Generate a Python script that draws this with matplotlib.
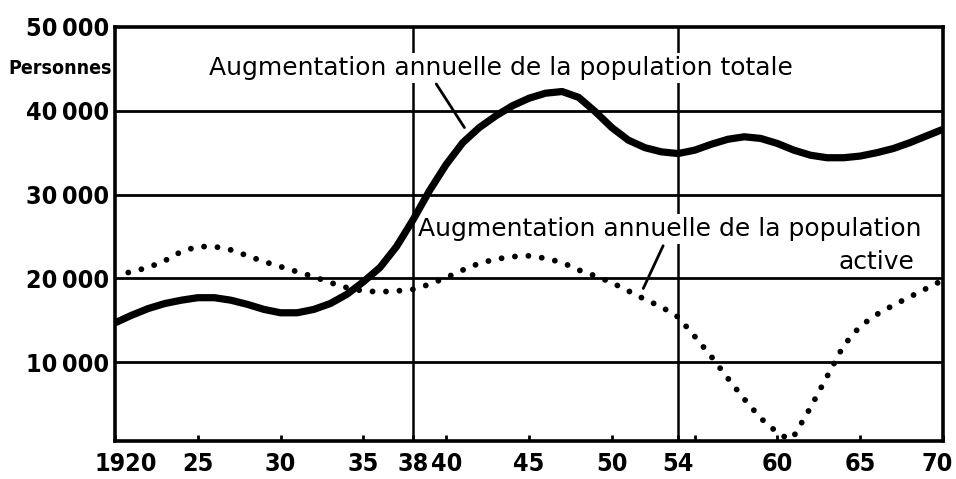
import matplotlib
matplotlib.use("Agg")
import matplotlib.pyplot as plt
from matplotlib.font_manager import FontProperties
from matplotlib.transforms import ScaledTranslation

# ---- data ----
years_total = list(range(1920, 1971))
total = [14700, 15600, 16400, 17000, 17400, 17700, 17700, 17400, 16900, 16300,
         15900, 15900, 16300, 17000, 18100, 19600, 21300, 23800, 27000, 30500,
         33600, 36200, 38000, 39400, 40600, 41500, 42100, 42300, 41600, 39900,
         38000, 36500, 35600, 35100, 34900, 35300, 36000, 36600, 36900, 36700,
         36100, 35300, 34700, 34400, 34400, 34600, 35000, 35500, 36200, 37000,
         37800]

years_active = [1920.8, 1922, 1923, 1924, 1925, 1926, 1927, 1928, 1929, 1930,
                1931, 1932, 1933, 1934, 1935, 1936, 1937, 1938, 1939, 1940,
                1941, 1942, 1943, 1944, 1945, 1946, 1947, 1948, 1949, 1950,
                1951, 1952, 1953, 1954, 1955, 1956, 1957, 1958, 1959, 1960,
                1960.7, 1961, 1962, 1963, 1964, 1965, 1966, 1967, 1968, 1969,
                1970]
active = [20700, 21300, 22100, 23200, 23800, 23800, 23400, 22700, 22000, 21400,
          20800, 20200, 19500, 18900, 18500, 18400, 18500, 18700, 19300, 20100,
          21000, 21800, 22300, 22600, 22700, 22400, 21900, 21000, 20300, 19500,
          18500, 17500, 16600, 15400, 13100, 10700, 8100, 5600, 3300, 1600,
          800, 1200, 4600, 8300, 12000, 14300, 15700, 16800, 17800, 18800,
          19800]

y_ticks = [10000, 20000, 30000, 40000, 50000]
y_tick_labels = ["10\u2009000", "20\u2009000", "30\u2009000", "40\u2009000", "50\u2009000"]
x_ticks = [1920, 1925, 1930, 1935, 1938, 1940, 1945, 1950, 1954, 1955, 1960, 1965, 1970]
x_tick_labels = ["1920", "25", "30", "35", "38", "40", "45", "50", "54", "", "60", "65", "70"]
ref_years = [1938, 1954]
unit_label = "Personnes"
label_total = "Augmentation annuelle de la population totale"
label_active_1 = "Augmentation annuelle de la population"
label_active_2 = "active"

# ---- figure ----
fig = plt.figure(figsize=(9.56, 4.79), dpi=100)
ax = fig.add_axes([115 / 956, 38 / 479, 828 / 956, 414 / 479])
ax.set_xlim(1920, 1970)
ax.set_ylim(600, 50000)

tick_font = FontProperties(family="DejaVu Sans", weight="bold", stretch="condensed", size=18)
small_font = FontProperties(family="DejaVu Sans", weight="bold", stretch="condensed", size=14)
text_font = FontProperties(family="DejaVu Sans", weight="normal", size=18)

for yv in y_ticks[:-1]:
    ax.axhline(yv, color="black", lw=2.0, zorder=1)
for xv in ref_years:
    ax.axvline(xv, color="black", lw=1.8, zorder=1)

ax.plot(years_total, total, color="black", lw=5.2, solid_capstyle="round",
        solid_joinstyle="round", zorder=4)
ax.plot(years_active, active, color="black", lw=4.2, linestyle=(0, (0.01, 2.3)),
        dash_capstyle="round", zorder=4)

for s in ax.spines.values():
    s.set_linewidth(2.6)

ax.set_yticks(y_ticks)
ax.set_yticklabels(y_tick_labels, fontproperties=tick_font)
ax.tick_params(axis="y", length=0, pad=4)
ax.set_xticks(x_ticks)
ax.set_xticklabels(x_tick_labels, fontproperties=tick_font)
ax.tick_params(axis="x", direction="in", length=4, width=2, pad=8)

# small hand-lettering offsets of the end labels
xlabels = ax.get_xticklabels()
xlabels[0].set_transform(xlabels[0].get_transform() + ScaledTranslation(11 / 100, 0, fig.dpi_scale_trans))
xlabels[-1].set_transform(xlabels[-1].get_transform() + ScaledTranslation(-6 / 100, 0, fig.dpi_scale_trans))

fig.text(8 / 956, 1 - 68 / 479, unit_label, ha="left", va="center", fontproperties=small_font)

box = dict(facecolor="white", edgecolor="none", pad=2)
ax.text(1943.3, 45100, label_total, ha="center", va="center", fontproperties=text_font,
        bbox=box, zorder=2)
ax.text(1953.5, 25900, label_active_1, ha="center", va="center", fontproperties=text_font,
        bbox=box, zorder=2)
ax.text(1968.3, 21900, label_active_2, ha="right", va="center", fontproperties=text_font,
        bbox=box, zorder=2)

ax.annotate("", xy=(1941.1, 38000), xytext=(1939.4, 43200),
            arrowprops=dict(arrowstyle="-", lw=2, color="black", shrinkA=0, shrinkB=0), zorder=5)
ax.annotate("", xy=(1951.9, 18800), xytext=(1953.1, 23900),
            arrowprops=dict(arrowstyle="-", lw=2, color="black", shrinkA=0, shrinkB=0), zorder=5)

fig.savefig("out.png", dpi=100, facecolor="white")
